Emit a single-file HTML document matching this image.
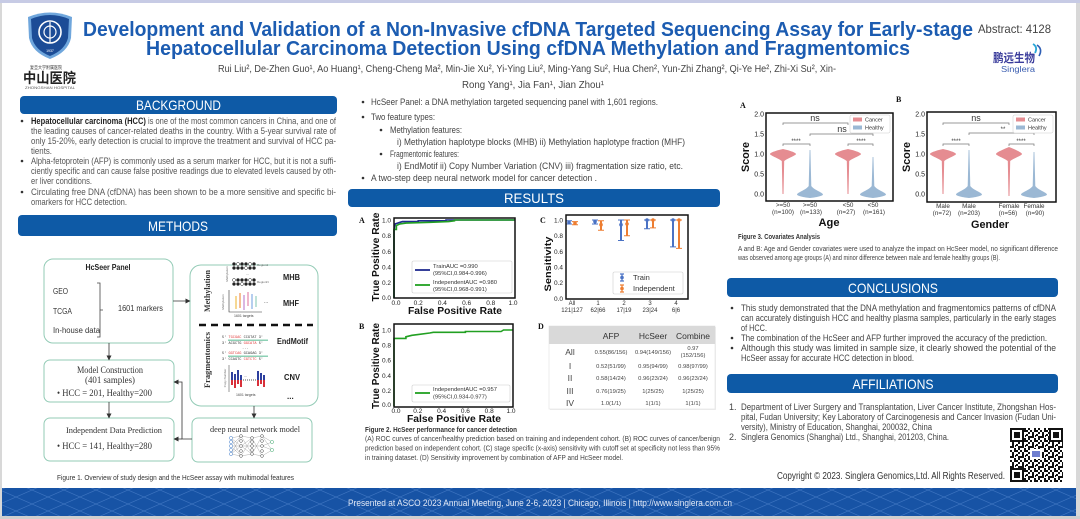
<!DOCTYPE html>
<html><head><meta charset="utf-8">
<style>
html,body{margin:0;padding:0;background:#fff;}
svg{display:block;}
</style></head><body>
<svg xmlns="http://www.w3.org/2000/svg" width="1080" height="519" viewBox="0 0 1080 519" font-family="'Liberation Sans', sans-serif">
<defs>
<pattern id="fp" width="32" height="14" patternUnits="userSpaceOnUse"><path d="M0 0L32 14M32 0L0 14" stroke="#4d82cc" stroke-width="0.6" opacity="0.7"/></pattern>
<pattern id="qr" width="10" height="10" patternUnits="userSpaceOnUse"><rect width="10" height="10" fill="#fff"/><rect x="0" y="0" width="2" height="2" fill="#111"/><rect x="4" y="0" width="4" height="2" fill="#111"/><rect x="2" y="2" width="2" height="4" fill="#111"/><rect x="6" y="4" width="2" height="2" fill="#111"/><rect x="8" y="2" width="2" height="2" fill="#111"/><rect x="0" y="6" width="4" height="2" fill="#111"/><rect x="4" y="8" width="2" height="2" fill="#111"/><rect x="8" y="6" width="2" height="4" fill="#111"/><rect x="5" y="5" width="1" height="2" fill="#111"/></pattern>
<marker id="ar" markerWidth="5" markerHeight="5" refX="4.5" refY="2.5" orient="auto" markerUnits="userSpaceOnUse"><path d="M0 0L5 2.5L0 5Z" fill="#333"/></marker>
</defs>

<!-- frame -->
<rect x="0" y="0" width="1080" height="519" fill="#d8d8d8"/>
<rect x="2" y="3" width="1074" height="513" fill="#ffffff"/>
<rect x="0" y="0" width="1080" height="3" fill="#c7cbe5"/>

<!-- ===== HEADER ===== -->
<g>
<path d="M28 17 Q50 8 72 17 L71 38 Q68 52 50 59 Q32 52 29 38 Z" fill="#6fa6dc"/>
<path d="M31 19 Q50 11 69 19 L68 38 Q65 50 50 56 Q35 50 32 38 Z" fill="#1c4c96"/>
<circle cx="50" cy="32" r="11" fill="none" stroke="#fff" stroke-width="1.6"/>
<circle cx="50" cy="32" r="6" fill="none" stroke="#fff" stroke-width="1.2"/>
<line x1="50" y1="22" x2="50" y2="43" stroke="#fff" stroke-width="1.2"/>
<text x="50" y="52" font-size="3.5" fill="#fff" text-anchor="middle">1937</text>
<text x="30" y="69" font-size="4.5" fill="#333" font-family="'Liberation Sans','Noto Sans CJK SC',sans-serif" textLength="32" lengthAdjust="spacingAndGlyphs">复旦大学附属医院</text>
<text x="23" y="83" font-size="14" font-weight="bold" fill="#222" font-family="'Liberation Sans','Noto Sans CJK SC',sans-serif" textLength="53" lengthAdjust="spacingAndGlyphs">中山医院</text>
<text x="25" y="89" font-size="3.5" fill="#555" textLength="50" lengthAdjust="spacingAndGlyphs">ZHONGSHAN HOSPITAL</text>
</g>

<text x="83" y="36" font-size="20" font-weight="bold" fill="#1c5cb1" textLength="890" lengthAdjust="spacingAndGlyphs">Development and Validation of a Non-Invasive cfDNA Targeted Sequencing Assay for Early-stage</text>
<text x="146" y="55" font-size="20" font-weight="bold" fill="#1c5cb1" textLength="764" lengthAdjust="spacingAndGlyphs">Hepatocellular Carcinoma Detection Using cfDNA Methylation and Fragmentomics</text>
<text x="978" y="33" font-size="12" fill="#444" textLength="73" lengthAdjust="spacingAndGlyphs">Abstract: 4128</text>

<text x="218" y="72" font-size="10" fill="#444" textLength="618" lengthAdjust="spacingAndGlyphs">Rui Liu², De-Zhen Guo¹, Ao Huang¹, Cheng-Cheng Ma², Min-Jie Xu², Yi-Ying Liu², Ming-Yang Su², Hua Chen², Yun-Zhi Zhang², Qi-Ye He², Zhi-Xi Su², Xin-</text>
<text x="462" y="88" font-size="10" fill="#444" textLength="142" lengthAdjust="spacingAndGlyphs">Rong Yang¹, Jia Fan¹, Jian Zhou¹</text>

<!-- Singlera logo -->
<text x="993" y="62" font-size="12" font-weight="bold" fill="#3b3d9c" font-family="'Liberation Sans','Noto Sans CJK SC',sans-serif" textLength="42" lengthAdjust="spacingAndGlyphs">鹏远生物</text>
<text x="1001" y="72" font-size="8" fill="#3a5db0" textLength="34" lengthAdjust="spacingAndGlyphs">Singlera</text>
<path d="M1033 44 Q1038 47 1035 53" fill="none" stroke="#2aa6d6" stroke-width="1.8"/>
<path d="M1037 45 Q1043 49 1039 56" fill="none" stroke="#2f5fb5" stroke-width="1.6"/>

<!-- ===== LEFT COLUMN ===== -->
<rect x="20" y="96" width="317" height="18" rx="4" fill="#0e5aa6"/>
<text x="178.5" y="110" font-size="14" fill="#fff" text-anchor="middle" textLength="85" lengthAdjust="spacingAndGlyphs">BACKGROUND</text>

<g font-size="9" fill="#555">
<circle cx="22" cy="121" r="1.3" fill="#333"/>
<circle cx="22" cy="161" r="1.3" fill="#333"/>
<circle cx="22" cy="192" r="1.3" fill="#333"/>
<text x="31" y="124" textLength="305" lengthAdjust="spacingAndGlyphs"><tspan font-weight="bold" fill="#222">Hepatocellular carcinoma (HCC)</tspan> is one of the most common cancers in China, and one of</text>
<text x="31" y="134" textLength="305" lengthAdjust="spacingAndGlyphs">the leading causes of cancer-related deaths in the country. With a 5-year survival rate of</text>
<text x="31" y="144" textLength="305" lengthAdjust="spacingAndGlyphs">only 15-20%, early detection is crucial to improve the treatment and survival of HCC pa-</text>
<text x="31" y="154" textLength="21" lengthAdjust="spacingAndGlyphs">tients.</text>
<text x="31" y="164" textLength="305" lengthAdjust="spacingAndGlyphs">Alpha-fetoprotein (AFP) is commonly used as a serum marker for HCC, but it is not a suffi-</text>
<text x="31" y="174" textLength="305" lengthAdjust="spacingAndGlyphs">ciently specific and can cause false positive readings due to elevated levels caused by oth-</text>
<text x="31" y="184" textLength="61" lengthAdjust="spacingAndGlyphs">er liver conditions.</text>
<text x="31" y="195" textLength="305" lengthAdjust="spacingAndGlyphs">Circulating free DNA (cfDNA) has been shown to be a more sensitive and specific bi-</text>
<text x="31" y="205" textLength="96" lengthAdjust="spacingAndGlyphs">omarkers for HCC detection.</text>
</g>

<rect x="18" y="215" width="319" height="21" rx="4" fill="#0e5aa6"/>
<text x="178" y="231" font-size="14" fill="#fff" text-anchor="middle" textLength="60" lengthAdjust="spacingAndGlyphs">METHODS</text>

<!-- Figure 1 -->
<g fill="none" stroke="#93cbb6" stroke-width="1">
<rect x="44" y="259" width="129" height="84" rx="9" fill="#fff"/>
<rect x="190" y="265" width="128" height="141" rx="11" fill="#fff"/>
<rect x="44" y="360" width="130" height="42" rx="6" fill="#fff"/>
<rect x="44" y="418" width="130" height="43" rx="6" fill="#fff"/>
<rect x="192" y="418" width="120" height="44" rx="6" fill="#fff"/>
</g>
<text x="108" y="270" font-size="8" font-weight="bold" fill="#222" text-anchor="middle" textLength="45" lengthAdjust="spacingAndGlyphs">HcSeer Panel</text>
<g font-size="8" fill="#333">
<text x="53" y="294" textLength="15" lengthAdjust="spacingAndGlyphs">GEO</text>
<text x="53" y="314" textLength="19" lengthAdjust="spacingAndGlyphs">TCGA</text>
<text x="53" y="333" textLength="47" lengthAdjust="spacingAndGlyphs">In-house data</text>
<text x="118" y="311" textLength="45" lengthAdjust="spacingAndGlyphs">1601 markers</text>
</g>
<path d="M97 283H100V337H97M100 310H103" fill="none" stroke="#444" stroke-width="0.8"/>

<g stroke="#333" stroke-width="0.8" fill="none">
<line x1="173" y1="301" x2="190" y2="301" marker-end="url(#ar)"/>
<line x1="109" y1="343" x2="109" y2="360" marker-end="url(#ar)"/>
<line x1="109" y1="402" x2="109" y2="418" marker-end="url(#ar)"/>
<line x1="254" y1="406" x2="254" y2="418" marker-end="url(#ar)"/>
<polyline points="192,439 182,439 182,382 174,382" marker-end="url(#ar)"/>
<line x1="182" y1="439" x2="174" y2="439" marker-end="url(#ar)"/>
</g>

<g font-family="'Liberation Serif', serif" fill="#333">
<text x="110" y="373" font-size="9" text-anchor="middle" textLength="66" lengthAdjust="spacingAndGlyphs">Model Construction</text>
<text x="110" y="383" font-size="9" text-anchor="middle" textLength="50" lengthAdjust="spacingAndGlyphs">(401 samples)</text>
<text x="57" y="396" font-size="9" textLength="95" lengthAdjust="spacingAndGlyphs">•  HCC = 201, Healthy=200</text>
<text x="66" y="433" font-size="8.5" textLength="96" lengthAdjust="spacingAndGlyphs">Independent Data Prediction</text>
<text x="57" y="449" font-size="9" textLength="95" lengthAdjust="spacingAndGlyphs">•  HCC = 141, Healthy=280</text>
<text x="210" y="432" font-size="8.5" textLength="90" lengthAdjust="spacingAndGlyphs">deep neural network model</text>
<text transform="translate(210,291) rotate(-90)" font-size="8" font-weight="bold" text-anchor="middle" textLength="42" lengthAdjust="spacingAndGlyphs">Methylation</text>
<text transform="translate(210,360) rotate(-90)" font-size="8" font-weight="bold" text-anchor="middle" textLength="56" lengthAdjust="spacingAndGlyphs">Fragmentomics</text>
</g>
<g font-size="8" font-weight="bold" fill="#222">
<text x="283" y="280" textLength="17" lengthAdjust="spacingAndGlyphs">MHB</text>
<text x="283" y="306" textLength="16" lengthAdjust="spacingAndGlyphs">MHF</text>
<text x="277" y="344" textLength="31" lengthAdjust="spacingAndGlyphs">EndMotif</text>
<text x="284" y="380" textLength="16" lengthAdjust="spacingAndGlyphs">CNV</text>
<text x="287" y="399">...</text>
</g>
<line x1="199" y1="325" x2="313" y2="325" stroke="#111" stroke-width="2.5" stroke-dasharray="7 5"/>
<!-- MHB mini -->
<g stroke="#222" stroke-width="0.5">
<g fill="#222"><circle cx="234" cy="264" r="1.5"/><circle cx="238" cy="264" r="1.5" fill="#fff"/><circle cx="242" cy="264" r="1.5"/><circle cx="246" cy="264" r="1.5"/><circle cx="250" cy="264" r="1.5" fill="#fff"/><circle cx="254" cy="264" r="1.5"/>
<circle cx="234" cy="268" r="1.5"/><circle cx="238" cy="268" r="1.5"/><circle cx="242" cy="268" r="1.5"/><circle cx="246" cy="268" r="1.5" fill="#fff"/><circle cx="250" cy="268" r="1.5"/><circle cx="254" cy="268" r="1.5"/>
<circle cx="234" cy="280" r="1.5" fill="#fff"/><circle cx="238" cy="280" r="1.5"/><circle cx="242" cy="280" r="1.5"/><circle cx="246" cy="280" r="1.5"/><circle cx="250" cy="280" r="1.5" fill="#fff"/><circle cx="254" cy="280" r="1.5"/>
<circle cx="234" cy="284" r="1.5"/><circle cx="238" cy="284" r="1.5"/><circle cx="242" cy="284" r="1.5" fill="#fff"/><circle cx="246" cy="284" r="1.5"/><circle cx="250" cy="284" r="1.5"/><circle cx="254" cy="284" r="1.5"/></g>
</g>
<text x="246" y="275" font-size="4" fill="#555">...</text>
<g font-size="3" fill="#666"><text x="257" y="266">Region1</text><text x="257" y="283">RegionN</text></g>
<text transform="translate(228,274) rotate(-90)" font-size="3" fill="#666" text-anchor="middle">Methylation</text>
<text transform="translate(224,302) rotate(-90)" font-size="3" fill="#666" text-anchor="middle">Methylation</text>
<!-- MHF mini -->
<path d="M229 290V312H262" fill="none" stroke="#333" stroke-width="0.6"/>
<g stroke-width="1.3">
<line x1="236" y1="296" x2="236" y2="309" stroke="#f2c35a"/>
<line x1="240" y1="293" x2="240" y2="308" stroke="#f29b5a"/>
<line x1="244" y1="295" x2="244" y2="310" stroke="#c58fd3"/>
<line x1="248" y1="292" x2="248" y2="306" stroke="#e68fb0"/>
<line x1="252" y1="294" x2="252" y2="309" stroke="#8fb3e6"/>
<line x1="256" y1="296" x2="256" y2="307" stroke="#9fd3c4"/>
</g>
<text x="264" y="303" font-size="5" fill="#333">...</text>
<text x="234" y="317" font-size="3.5" fill="#444">1601 targets</text>
<!-- EndMotif mini -->
<g font-size="3.6" font-family="'Liberation Mono', monospace">
<text x="222" y="338" fill="#333">5' <tspan fill="#e03a3a">TGCGAC</tspan>  CCGTAT 3'</text>
<rect x="228" y="339.5" width="40" height="1.5" fill="#8ed0b5"/>
<text x="222" y="344" fill="#333">3' ACGCTG  <tspan fill="#e03a3a">GGCATA</tspan> 5'</text>
<text x="242" y="349" fill="#333">...</text>
<text x="222" y="354" fill="#333">5' <tspan fill="#e03a3a">GGTCAG</tspan> GCAGAG 3'</text>
<rect x="228" y="355.5" width="40" height="1.5" fill="#8ed0b5"/>
<text x="222" y="360" fill="#333">3' CCAGTC <tspan fill="#e03a3a">CGTCTC</tspan> 5'</text>
</g>
<!-- CNV mini -->
<path d="M229 365V392" stroke="#333" stroke-width="0.5"/>
<g fill="#2d3f9e">
<rect x="231" y="372" width="2" height="8"/><rect x="234" y="374" width="2" height="6"/><rect x="237" y="370" width="2" height="10"/><rect x="240" y="375" width="2" height="5"/>
<rect x="257" y="371" width="2" height="9"/><rect x="260" y="373" width="2" height="7"/><rect x="263" y="375" width="2" height="5"/>
</g>
<g fill="#d8303a">
<rect x="231" y="380" width="2" height="5"/><rect x="234" y="380" width="2" height="8"/><rect x="237" y="380" width="2" height="4"/><rect x="240" y="380" width="2" height="7"/>
<rect x="257" y="380" width="2" height="6"/><rect x="260" y="380" width="2" height="4"/><rect x="263" y="380" width="2" height="7"/>
</g>
<line x1="243" y1="380" x2="256" y2="380" stroke="#555" stroke-width="1" stroke-dasharray="1 1"/>
<text x="244" y="377" font-size="4" fill="#333">...</text>
<text x="236" y="396" font-size="3.5" fill="#444">1601 targets</text>
<text transform="translate(226,378) rotate(-90)" font-size="3" fill="#666" text-anchor="middle">Copy Number</text>
<!-- NN mini -->
<g stroke="#777" stroke-width="0.3">
<path d="M231 438L241 436M231 438L241 446M231 438L241 456M231 446L241 436M231 446L241 446M231 446L241 456M231 454L241 436M231 454L241 446M231 454L241 456M241 436L252 438M241 436L252 454M241 446L252 438M241 446L252 446M241 446L252 454M241 456L252 438M241 456L252 454M252 438L262 436M252 438L262 456M252 446L262 446M252 454L262 436M252 454L262 456M262 436L272 442M262 446L272 442M262 456L272 450M262 436L272 450M262 446L272 450"/>
</g>
<g fill="#fff" stroke="#444" stroke-width="0.5">
<circle cx="231" cy="438" r="1.6" stroke="#3a79c9"/><circle cx="231" cy="442" r="1.6" stroke="#3a79c9"/><circle cx="231" cy="446" r="1.6" stroke="#3a79c9"/><circle cx="231" cy="450" r="1.6" stroke="#3a79c9"/><circle cx="231" cy="454" r="1.6" stroke="#3a79c9"/>
<circle cx="241" cy="436" r="1.4"/><circle cx="241" cy="441" r="1.4"/><circle cx="241" cy="446" r="1.4"/><circle cx="241" cy="451" r="1.4"/><circle cx="241" cy="456" r="1.4"/>
<circle cx="252" cy="438" r="1.4"/><circle cx="252" cy="442" r="1.4"/><circle cx="252" cy="446" r="1.4"/><circle cx="252" cy="450" r="1.4"/><circle cx="252" cy="454" r="1.4"/>
<circle cx="262" cy="436" r="1.4"/><circle cx="262" cy="441" r="1.4"/><circle cx="262" cy="446" r="1.4"/><circle cx="262" cy="451" r="1.4"/><circle cx="262" cy="456" r="1.4"/>
<circle cx="272" cy="442" r="1.6" stroke="#3aa86a"/><circle cx="272" cy="450" r="1.6" stroke="#3aa86a"/>
</g>
<text x="57" y="480" font-size="7" fill="#333" textLength="237" lengthAdjust="spacingAndGlyphs">Figure 1. Overview of study design and the HcSeer assay with multimodal features</text>

<!-- ===== MIDDLE COLUMN ===== -->
<g font-size="9" fill="#444">
<circle cx="363" cy="102" r="1.3" fill="#333"/>
<circle cx="363" cy="117" r="1.3" fill="#333"/>
<circle cx="381" cy="130" r="1.3" fill="#333"/>
<circle cx="381" cy="154" r="1.3" fill="#333"/>
<circle cx="363" cy="178" r="1.3" fill="#333"/>
<text x="371" y="105" textLength="287" lengthAdjust="spacingAndGlyphs">HcSeer Panel: a DNA methylation targeted sequencing panel with 1,601 regions.</text>
<text x="371" y="120" textLength="64" lengthAdjust="spacingAndGlyphs">Two feature types:</text>
<text x="390" y="133" textLength="72" lengthAdjust="spacingAndGlyphs">Methylation features:</text>
<text x="397" y="145" textLength="288" lengthAdjust="spacingAndGlyphs">i)  Methylation haplotype blocks (MHB) ii)  Methylation haplotype fraction (MHF)</text>
<text x="390" y="157" textLength="69" lengthAdjust="spacingAndGlyphs">Fragmentomic features:</text>
<text x="397" y="169" textLength="286" lengthAdjust="spacingAndGlyphs">i)  EndMotif   ii)  Copy Number Variation (CNV)   iii) fragmentation size ratio, etc.</text>
<text x="371" y="181" textLength="226" lengthAdjust="spacingAndGlyphs">A two-step deep neural network model  for cancer detection .</text>
</g>

<rect x="348" y="189" width="372" height="18" rx="4" fill="#0e5aa6"/>
<text x="534" y="203" font-size="14" fill="#fff" text-anchor="middle" textLength="60" lengthAdjust="spacingAndGlyphs">RESULTS</text>

<!-- Chart A -->
<text x="359" y="223" font-size="8" font-weight="bold" font-family="'Liberation Serif', serif" fill="#111">A</text>
<g font-size="6.5" fill="#222" text-anchor="end">
<text x="391" y="222.5">1.0</text><text x="391" y="238">0.8</text><text x="391" y="254">0.6</text><text x="391" y="269.5">0.4</text><text x="391" y="285">0.2</text><text x="391" y="300">0.0</text>
</g>
<g font-size="6.5" fill="#222" text-anchor="middle">
<text x="396" y="305">0.0</text><text x="418.2" y="305">0.2</text><text x="442.4" y="305">0.4</text><text x="466.6" y="305">0.6</text><text x="490.8" y="305">0.8</text><text x="513" y="305">1.0</text>
</g>
<text x="455" y="314" font-size="10" font-weight="bold" fill="#111" text-anchor="middle" textLength="94" lengthAdjust="spacingAndGlyphs">False Positive Rate</text>
<text transform="translate(379,257) rotate(-90)" font-size="10" font-weight="bold" fill="#111" text-anchor="middle" textLength="89" lengthAdjust="spacingAndGlyphs">True Positive Rate</text>
<polyline fill="none" stroke="#1f2a8f" stroke-width="1.6" points="394,298 394,231.7 394.6,226.2 395.2,223.9 397.6,223.1 400.1,222.3 402.5,221.6 418.2,221.6 418.2,220.8 446,220.8 446,220 515,220"/>
<polyline fill="none" stroke="#22a022" stroke-width="1.6" points="394,298 394,229.4 396.4,229.4 396.4,225.5 400,223.9 406.1,223.1 430.3,222.3 448.5,221.6 454.5,220.8 454.5,220 515,220"/>
<rect x="394" y="218" width="121" height="80" fill="none" stroke="#111" stroke-width="1.5"/>
<rect x="412" y="261" width="100" height="32" fill="#fff" stroke="#ccc" stroke-width="0.6" rx="1.5"/>
<line x1="415" y1="270" x2="430" y2="270" stroke="#1f2a8f" stroke-width="1.8"/>
<line x1="415" y1="285" x2="430" y2="285" stroke="#22a022" stroke-width="1.8"/>
<g font-size="5.8" fill="#333">
<text x="433" y="268">TrainAUC =0.990</text>
<text x="433" y="275">(95%CI,0.984-0.996)</text>
<text x="433" y="284">IndependentAUC =0.980</text>
<text x="433" y="291">(95%CI,0.968-0.991)</text>
</g>

<!-- Chart C -->
<text x="540" y="223" font-size="8" font-weight="bold" font-family="'Liberation Serif', serif" fill="#111">C</text>
<g font-size="6.5" fill="#222" text-anchor="end">
<text x="563" y="222.5">1.0</text><text x="563" y="238">0.8</text><text x="563" y="254">0.6</text><text x="563" y="269.5">0.4</text><text x="563" y="285">0.2</text><text x="563" y="301">0.0</text>
</g>
<text transform="translate(551,264) rotate(-90)" font-size="9" font-weight="bold" fill="#111" text-anchor="middle" textLength="55" lengthAdjust="spacingAndGlyphs">Sensitivity</text>
<g font-size="6" fill="#333" text-anchor="middle">
<text x="572" y="305">All</text><text x="572" y="312">121|127</text>
<text x="598" y="305">1</text><text x="598" y="312">62|66</text>
<text x="624" y="305">2</text><text x="624" y="312">17|19</text>
<text x="650" y="305">3</text><text x="650" y="312">23|24</text>
<text x="676" y="305">4</text><text x="676" y="312">6|6</text>
</g>
<g stroke="#4a72c4" stroke-width="2" fill="#4a72c4">
<path d="M569 224V220.8M566 224H572M566 220.8H572" stroke-width="1"/><line x1="569" y1="224" x2="569" y2="220.8"/><circle cx="569" cy="222.4" r="1.8" stroke="none"/>
<path d="M595 224V220M592 224H598M592 220H598" stroke-width="1"/><line x1="595" y1="224" x2="595" y2="220"/><circle cx="595" cy="221.6" r="1.8" stroke="none"/>
<path d="M621 240.5V220M618 240.5H624M618 220H624" stroke-width="1"/><line x1="621" y1="240.5" x2="621" y2="220"/><circle cx="621" cy="224.7" r="1.8" stroke="none"/>
<path d="M647 228.7V220M644 228.7H650M644 220H650" stroke-width="1"/><line x1="647" y1="228.7" x2="647" y2="220"/><circle cx="647" cy="220" r="1.8" stroke="none"/>
<path d="M673 246.9V220M670 246.9H676M670 220H676" stroke-width="1"/><line x1="673" y1="246.9" x2="673" y2="220"/><circle cx="673" cy="220" r="1.8" stroke="none"/>
</g>
<g stroke="#ed7d31" stroke-width="2" fill="#ed7d31">
<path d="M575 224.7V221.6M572 224.7H578M572 221.6H578" stroke-width="1"/><line x1="575" y1="224.7" x2="575" y2="221.6"/><circle cx="575" cy="223.2" r="1.8" stroke="none"/>
<path d="M601 230.3V220.8M598 230.3H604M598 220.8H604" stroke-width="1"/><line x1="601" y1="230.3" x2="601" y2="220.8"/><circle cx="601" cy="224.7" r="1.8" stroke="none"/>
<path d="M627 235.8V220M624 235.8H630M624 220H630" stroke-width="1"/><line x1="627" y1="235.8" x2="627" y2="220"/><circle cx="627" cy="223.9" r="1.8" stroke="none"/>
<path d="M653 227.9V220M650 227.9H656M650 220H656" stroke-width="1"/><line x1="653" y1="227.9" x2="653" y2="220"/><circle cx="653" cy="220" r="1.8" stroke="none"/>
<path d="M679 248.4V220M676 248.4H682M676 220H682" stroke-width="1"/><line x1="679" y1="248.4" x2="679" y2="220"/><circle cx="679" cy="220" r="1.8" stroke="none"/>
</g>
<rect x="566" y="215" width="122" height="84" fill="none" stroke="#111" stroke-width="1.5"/>
<rect x="613" y="272" width="70" height="22" fill="#fff" stroke="#ccc" stroke-width="0.6" rx="1.5"/>
<g stroke-width="1.2">
<line x1="622" y1="274" x2="622" y2="281" stroke="#4a72c4"/><line x1="620" y1="274" x2="624" y2="274" stroke="#4a72c4"/><line x1="620" y1="281" x2="624" y2="281" stroke="#4a72c4"/><circle cx="622" cy="277.5" r="1.8" fill="#4a72c4"/>
<line x1="622" y1="285" x2="622" y2="292" stroke="#ed7d31"/><line x1="620" y1="285" x2="624" y2="285" stroke="#ed7d31"/><line x1="620" y1="292" x2="624" y2="292" stroke="#ed7d31"/><circle cx="622" cy="288.5" r="1.8" fill="#ed7d31"/>
</g>
<g font-size="7.5" fill="#333"><text x="633" y="280">Train</text><text x="633" y="291">Independent</text></g>

<!-- Chart B -->
<text x="359" y="329" font-size="8" font-weight="bold" font-family="'Liberation Serif', serif" fill="#111">B</text>
<g font-size="6.5" fill="#222" text-anchor="end">
<text x="391" y="332.5">1.0</text><text x="391" y="347.5">0.8</text><text x="391" y="362.5">0.6</text><text x="391" y="378">0.4</text><text x="391" y="393">0.2</text><text x="391" y="407">0.0</text>
</g>
<g font-size="6.5" fill="#222" text-anchor="middle">
<text x="396" y="413">0.0</text><text x="417.8" y="413">0.2</text><text x="441.6" y="413">0.4</text><text x="465.4" y="413">0.6</text><text x="489.2" y="413">0.8</text><text x="511" y="413">1.0</text>
</g>
<text x="454" y="422" font-size="10" font-weight="bold" fill="#111" text-anchor="middle" textLength="94" lengthAdjust="spacingAndGlyphs">False Positive Rate</text>
<text transform="translate(379,366) rotate(-90)" font-size="10" font-weight="bold" fill="#111" text-anchor="middle" textLength="86" lengthAdjust="spacingAndGlyphs">True Positive Rate</text>
<polyline fill="none" stroke="#22a022" stroke-width="1.6" points="394,406 394,338.4 405.9,338.4 405.9,336.8 411.9,335.3 417.8,334.6 429.7,333 433.3,332.3 465.4,332.3 465.4,331.5 501.1,331.5 503.5,330 513,330"/>
<rect x="394" y="324" width="119" height="83" fill="none" stroke="#111" stroke-width="1.5"/>
<rect x="412" y="385" width="98" height="17" fill="#fff" stroke="#ccc" stroke-width="0.6" rx="1.5"/>
<line x1="415" y1="393" x2="430" y2="393" stroke="#22a022" stroke-width="1.8"/>
<g font-size="5.8" fill="#333">
<text x="433" y="391">IndependentAUC =0.957</text>
<text x="433" y="398.5">(95%CI,0.934-0.977)</text>
</g>

<!-- Table D -->
<text x="538" y="329" font-size="8" font-weight="bold" font-family="'Liberation Serif', serif" fill="#111">D</text>
<rect x="550" y="327" width="166" height="83" fill="#eee"/>
<rect x="549" y="326" width="166" height="83" fill="#fff" stroke="#e2e2e2" stroke-width="0.6"/>
<rect x="549" y="326" width="166" height="18" fill="#d9d9d9"/>
<g font-size="8.5" fill="#333" text-anchor="middle">
<text x="611" y="339">AFP</text><text x="653" y="339">HcSeer</text><text x="693" y="339">Combine</text>
</g>
<g font-size="8.5" fill="#444" text-anchor="middle">
<text x="570" y="355">All</text><text x="570" y="369">I</text><text x="570" y="381">II</text><text x="570" y="394">III</text><text x="570" y="406">IV</text>
</g>
<g font-size="5.8" fill="#444" text-anchor="middle">
<text x="611" y="354">0.55(86/156)</text><text x="653" y="354">0.94(149/156)</text><text x="693" y="350">0.97</text><text x="693" y="357">(152/156)</text>
<text x="611" y="368">0.52(51/99)</text><text x="653" y="368">0.95(94/99)</text><text x="693" y="368">0.98(97/99)</text>
<text x="611" y="380">0.58(14/24)</text><text x="653" y="380">0.96(23/24)</text><text x="693" y="380">0.96(23/24)</text>
<text x="611" y="393">0.76(19/25)</text><text x="653" y="393">1(25/25)</text><text x="693" y="393">1(25/25)</text>
<text x="611" y="405">1.0(1/1)</text><text x="653" y="405">1(1/1)</text><text x="693" y="405">1(1/1)</text>
</g>

<!-- Figure 2 caption -->
<text x="365" y="432" font-size="7" font-weight="bold" fill="#333" textLength="152" lengthAdjust="spacingAndGlyphs">Figure 2. HcSeer performance for cancer detection</text>
<g font-size="7" fill="#444">
<text x="365" y="441" textLength="355" lengthAdjust="spacingAndGlyphs">(A)  ROC curves of cancer/healthy prediction based on training and independent  cohort.  (B)  ROC curves of cancer/benign</text>
<text x="365" y="450.5" textLength="355" lengthAdjust="spacingAndGlyphs">prediction based on   independent  cohort.    (C)  stage specific (x-axis) sensitivity with cutoff set at specificity not less than 95%</text>
<text x="365" y="460" textLength="258" lengthAdjust="spacingAndGlyphs">in training dataset.  (D) Sensitivity improvement by combination of  AFP and HcSeer model.</text>
</g>

<!-- ===== RIGHT COLUMN ===== -->
<!-- Violin A -->
<text x="740" y="108" font-size="8" font-weight="bold" font-family="'Liberation Serif', serif" fill="#111">A</text>
<g font-size="7" fill="#222" text-anchor="end">
<text x="764" y="116.5">2.0</text><text x="764" y="136.5">1.5</text><text x="764" y="156.5">1.0</text><text x="764" y="176.5">0.5</text><text x="764" y="196.5">0.0</text>
</g>
<text transform="translate(749,157) rotate(-90)" font-size="11" font-weight="bold" fill="#111" text-anchor="middle" textLength="30" lengthAdjust="spacingAndGlyphs">Score</text>
<g fill="#e58c91">
<path d="M783 149C788 150 796 152.5 796 154C796 155.5 788 158 784.2 161L783.5 194L782.5 194L781.8 161C778 158 770 155.5 770 154C770 152.5 778 150 783 149Z"/>
<path d="M848 149C853 150 861 152.5 861 154C861 155.5 853 158 849.2 161L848.5 194L847.5 194L846.8 161C843 158 835 155.5 835 154C835 152.5 843 150 848 149Z"/>
</g>
<g fill="#9bb8d4">
<path d="M809.6 150L810.4 150L811.3 186C814 190 823 192.5 823 194.5C823 196 815 197.5 810 198C805 197.5 797 196 797 194.5C797 192.5 806 190 808.7 186Z"/>
<path d="M872.6 157L873.4 157L874.3 186C877 190 886 192.5 886 194.5C886 196 878 197.5 873 198C868 197.5 860 196 860 194.5C860 192.5 869 190 871.7 186Z"/>
</g>
<g fill="none" stroke="#777" stroke-width="0.7">
<path d="M783 125V123H848V125"/><path d="M810 136V134H873V136"/>
<path d="M783 146V144H810V146"/><path d="M848 146V144H873V146"/>
</g>
<g fill="#333" text-anchor="middle">
<text x="815" y="121" font-size="9">ns</text><text x="842" y="132" font-size="9">ns</text>
<text x="796" y="143" font-size="6">****</text><text x="861" y="143" font-size="6">****</text>
</g>
<rect x="766" y="113" width="127" height="88" fill="none" stroke="#111" stroke-width="1.5"/>
<rect x="850" y="115" width="40" height="18" fill="#fff" stroke="#ccc" stroke-width="0.5" rx="1.5"/>
<rect x="853" y="117.5" width="9" height="4" fill="#e58c91"/><rect x="853" y="125.5" width="9" height="4" fill="#9bb8d4"/>
<g font-size="5.5" fill="#333"><text x="865" y="121.5">Cancer</text><text x="865" y="129.5">Healthy</text></g>
<g font-size="6.3" fill="#333" text-anchor="middle">
<text x="783" y="207">&gt;=50</text><text x="783" y="214">(n=100)</text>
<text x="810" y="207">&gt;=50</text><text x="811" y="214">(n=133)</text>
<text x="848" y="207">&lt;50</text><text x="846" y="214">(n=27)</text>
<text x="873" y="207">&lt;50</text><text x="874" y="214">(n=161)</text>
</g>
<text x="829" y="226" font-size="11" font-weight="bold" fill="#111" text-anchor="middle" textLength="21" lengthAdjust="spacingAndGlyphs">Age</text>

<!-- Violin B -->
<text x="896" y="102" font-size="8" font-weight="bold" font-family="'Liberation Serif', serif" fill="#111">B</text>
<g font-size="7" fill="#222" text-anchor="end">
<text x="925" y="116.5">2.0</text><text x="925" y="136.5">1.5</text><text x="925" y="156.5">1.0</text><text x="925" y="176.5">0.5</text><text x="925" y="196.5">0.0</text>
</g>
<text transform="translate(910,157) rotate(-90)" font-size="11" font-weight="bold" fill="#111" text-anchor="middle" textLength="30" lengthAdjust="spacingAndGlyphs">Score</text>
<g fill="#e58c91">
<path d="M943 149C948 150 956 152.5 956 154C956 155.5 948 158 944.2 161L943.5 194L942.5 194L941.8 161C938 158 930 155.5 930 154C930 152.5 938 150 943 149Z"/>
<path d="M1009 147C1014 149 1022 152.5 1022 154C1022 155.5 1014 158 1010.2 161L1009.5 196L1008.5 196L1007.8 161C1004 158 996 155.5 996 154C996 152.5 1004 149 1009 147Z"/>
</g>
<g fill="#9bb8d4">
<path d="M968.6 150L969.4 150L970.3 186C973 190 982 192.5 982 194.5C982 196 974 197.5 969 198C964 197.5 956 196 956 194.5C956 192.5 965 190 967.7 186Z"/>
<path d="M1033.6 152L1034.4 152L1035.3 186C1038 190 1047 192.5 1047 194.5C1047 196 1039 197.5 1034 198C1029 197.5 1021 196 1021 194.5C1021 192.5 1030 190 1032.7 186Z"/>
</g>
<g fill="none" stroke="#777" stroke-width="0.7">
<path d="M943 125V123H1009V125"/><path d="M969 135V133H1034V135"/>
<path d="M943 146V144H969V146"/><path d="M1009 146V144H1034V146"/>
</g>
<g fill="#333" text-anchor="middle">
<text x="976" y="121" font-size="9">ns</text><text x="1003" y="131" font-size="6">**</text>
<text x="956" y="143" font-size="6">****</text><text x="1021" y="143" font-size="6">****</text>
</g>
<rect x="927" y="112" width="129" height="90" fill="none" stroke="#111" stroke-width="1.5"/>
<rect x="1013" y="115" width="40" height="18" fill="#fff" stroke="#ccc" stroke-width="0.5" rx="1.5"/>
<rect x="1016" y="117.5" width="9" height="4" fill="#e58c91"/><rect x="1016" y="125.5" width="9" height="4" fill="#9bb8d4"/>
<g font-size="5.5" fill="#333"><text x="1028" y="121.5">Cancer</text><text x="1028" y="129.5">Healthy</text></g>
<g font-size="6.3" fill="#333" text-anchor="middle">
<text x="943" y="208">Male</text><text x="942" y="215">(n=72)</text>
<text x="969" y="208">Male</text><text x="969" y="215">(n=203)</text>
<text x="1009" y="208">Female</text><text x="1008" y="215">(n=56)</text>
<text x="1034" y="208">Female</text><text x="1035" y="215">(n=90)</text>
</g>
<text x="990" y="228" font-size="11" font-weight="bold" fill="#111" text-anchor="middle" textLength="38" lengthAdjust="spacingAndGlyphs">Gender</text>

<text x="738" y="239" font-size="7" font-weight="bold" fill="#333" textLength="82" lengthAdjust="spacingAndGlyphs">Figure 3. Covariates Analysis</text>
<g font-size="7" fill="#444">
<text x="738" y="251" textLength="320" lengthAdjust="spacingAndGlyphs">A and B: Age and Gender covariates were used to analyze the impact on HcSeer model, no significant difference</text>
<text x="738" y="260" textLength="262" lengthAdjust="spacingAndGlyphs">was observed among age groups (A) and minor difference between male and female healthy groups (B).</text>
</g>

<rect x="727" y="278" width="331" height="19" rx="4" fill="#0e5aa6"/>
<text x="893" y="293" font-size="14" fill="#fff" text-anchor="middle" textLength="90" lengthAdjust="spacingAndGlyphs">CONCLUSIONS</text>
<g font-size="9" fill="#444">
<circle cx="732" cy="308" r="1.3" fill="#333"/>
<circle cx="732" cy="338" r="1.3" fill="#333"/>
<circle cx="732" cy="348" r="1.3" fill="#333"/>
<text x="741" y="311" textLength="315" lengthAdjust="spacingAndGlyphs">This study demonstrated that the DNA methylation and fragmentomics patterns of cfDNA</text>
<text x="741" y="321" textLength="315" lengthAdjust="spacingAndGlyphs">can accurately distinguish HCC and healthy plasma samples, particularly in the early stages</text>
<text x="741" y="331" textLength="26" lengthAdjust="spacingAndGlyphs">of HCC.</text>
<text x="741" y="341" textLength="306" lengthAdjust="spacingAndGlyphs">The combination of the HcSeer and AFP further improved the accuracy of the prediction.</text>
<text x="741" y="351" textLength="315" lengthAdjust="spacingAndGlyphs">Although this study was limited in sample size, it clearly showed the potential of the</text>
<text x="741" y="361" textLength="173" lengthAdjust="spacingAndGlyphs">HcSeer assay for accurate HCC detection in blood.</text>
</g>

<rect x="727" y="374" width="331" height="19" rx="4" fill="#0e5aa6"/>
<text x="893" y="389" font-size="14" fill="#fff" text-anchor="middle" textLength="81" lengthAdjust="spacingAndGlyphs">AFFILIATIONS</text>
<g font-size="9" fill="#444">
<text x="729" y="410">1.</text>
<text x="741" y="410" textLength="315" lengthAdjust="spacingAndGlyphs">Department of Liver Surgery and Transplantation, Liver Cancer Institute, Zhongshan Hos-</text>
<text x="741" y="420" textLength="315" lengthAdjust="spacingAndGlyphs">pital, Fudan University; Key Laboratory of Carcinogenesis and Cancer Invasion (Fudan Uni-</text>
<text x="741" y="430" textLength="191" lengthAdjust="spacingAndGlyphs">versity), Ministry of Education, Shanghai, 200032, China</text>
<text x="729" y="440">2.</text>
<text x="741" y="440" textLength="208" lengthAdjust="spacingAndGlyphs">Singlera Genomics (Shanghai) Ltd., Shanghai, 201203, China.</text>
</g>

<text x="777" y="479" font-size="10" fill="#333" textLength="228" lengthAdjust="spacingAndGlyphs">Copyright © 2023. Singlera Genomics,Ltd. All Rights Reserved.</text>

<!-- QR -->
<rect x="1010" y="428" width="53" height="54" fill="url(#qr)"/>
<g>
<rect x="1010" y="428" width="14" height="14" fill="#111"/><rect x="1012" y="430" width="10" height="10" fill="#fff"/><rect x="1014" y="432" width="6" height="6" fill="#111"/>
<rect x="1049" y="428" width="14" height="14" fill="#111"/><rect x="1051" y="430" width="10" height="10" fill="#fff"/><rect x="1053" y="432" width="6" height="6" fill="#111"/>
<rect x="1010" y="468" width="14" height="14" fill="#111"/><rect x="1012" y="470" width="10" height="10" fill="#fff"/><rect x="1014" y="472" width="6" height="6" fill="#111"/>
<rect x="1030" y="449" width="12" height="10" fill="#fff"/><rect x="1032" y="451" width="8" height="6" fill="#6f7fd0"/>
</g>

<!-- ===== FOOTER ===== -->
<rect x="2" y="488" width="1074" height="28" fill="#1753a5"/>
<rect x="2" y="488" width="1074" height="28" fill="url(#fp)"/>
<text x="348" y="506" font-size="9" fill="#e4eaf6" textLength="384" lengthAdjust="spacingAndGlyphs">Presented at ASCO 2023 Annual Meeting, June 2-6, 2023 | Chicago, Illinois | http://www.singlera.com.cn</text>
<rect x="0" y="516" width="1080" height="3" fill="#cfcfcf"/>
</svg>
</body></html>
